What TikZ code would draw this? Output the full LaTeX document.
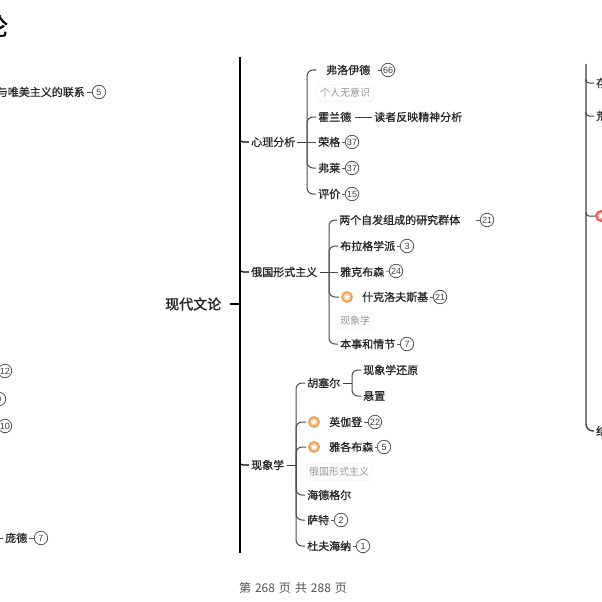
\documentclass[tikz,border=0pt]{standalone}
\usepackage{fontspec}
\usetikzlibrary{shapes.geometric}
\setmainfont{Noto Sans CJK SC}
\newfontfamily\cjkm[FakeBold=0.9]{Noto Sans CJK SC}
\newfontfamily\cjkb[FakeBold=1.6]{Noto Sans CJK SC}
\newfontfamily\numf{Liberation Sans}
\definecolor{stemc}{gray}{0.3}
\definecolor{textc}{gray}{0.15}
\definecolor{iconor}{RGB}{240,160,85}
\definecolor{iconrd}{RGB}{228,90,90}
\tikzset{
  x=1pt,y=-1pt,
  lab/.style={anchor=west,inner sep=0pt,font=\cjkm\fontsize{11}{11}\selectfont,text=textc},
  endlab/.style={anchor=east,inner sep=0pt,font=\cjkm\fontsize{11}{11}\selectfont,text=textc},
  ghost/.style={anchor=west,draw=black!8,rounded corners=3pt,inner xsep=3pt,inner ysep=3.5pt,font=\fontsize{10}{10}\selectfont,text=black!42},
  badge/.style={circle,draw=black!72,line width=0.7pt,minimum size=13.5pt,inner sep=0pt,font=\numf\fontsize{9}{9}\selectfont,text=black!75},
  ico/.style={circle,draw=iconor,fill=iconor!55,line width=1.8pt,minimum size=10pt,inner sep=0pt,
    path picture={\node[star,star points=5,star point ratio=2.2,fill=white,inner sep=0pt,minimum size=6.5pt] at (path picture bounding box.center) {};}},
  icor/.style={ico,draw=iconrd,fill=iconrd!55},
  trunk/.style={draw=black,line width=1.4pt},
  stem/.style={draw=stemc,line width=1pt,rounded corners=6pt},
  link/.style={draw=black!75,line width=1pt},
  tk/.style={draw=black!65,line width=0.7pt,shorten <=#1},
}
\begin{document}
\begin{tikzpicture}
\useasboundingbox (0,0) rectangle (602,602);
\clip (0,0) rectangle (602,602);
\fill[white] (0,0) rectangle (602,602);

% title and left cut-off column
\node[anchor=east,inner sep=0pt,font=\cjkb\fontsize{24}{24}\selectfont,text=black] (title) at (8,26) {论};
\node[endlab] (lt1) at (85,92) {与唯美主义的联系};
\node[badge] (lb1) at (99,92) {5};
\draw[tk=2] (lt1.east) -- (lb1.west);
\node[badge] (lb2) at (5,371) {12};
\node[badge] (lb3) at (-1,399) {9};
\node[badge] (lb4) at (5,426) {10};
\node[lab] (pd) at (5,538) {庞德};
\node[badge] (lb5) at (41,538) {7};
\coordinate (pdl) at (0,538);
\draw[link] (pdl) -- ([xshift=-2pt]pd.west);
\draw[tk=2] (pd.east) -- (lb5.west);

% centre trunk
\node[anchor=west,inner sep=0pt,font=\cjkb\fontsize{14}{14}\selectfont,text=textc] (root) at (165,304) {现代文论};
\coordinate (tt) at (240,57);
\coordinate (tb) at (240,553);
\coordinate (tm) at (240,304);
\draw[trunk] (tt) -- (tb);
\draw[trunk] ([xshift=9pt]root.east) -- (tm);

\node[lab] (a) at (251,142) {心理分析};
\node[lab] (b) at (251,272) {俄国形式主义};
\node[lab] (c) at (251,465) {现象学};
\draw[trunk,line width=1.1pt,rounded corners=3pt] (240,138) |- ([xshift=-2pt]a.west);
\draw[trunk,line width=1.1pt,rounded corners=3pt] (240,268) |- ([xshift=-2pt]b.west);
\draw[trunk,line width=1.1pt,rounded corners=3pt] (240,461) |- ([xshift=-2pt]c.west);

% group A
\coordinate (ha) at (307,142);
\draw[link] ([xshift=2pt]a.east) -- (ha);
\coordinate (a1e) at (316,70);
\node[lab] (a1) at (326,70) {弗洛伊德};
\node[badge] (a1b) at (388,70) {66};
\node[ghost] (a2) at (317,93) {个人无意识};
\node[lab] (a3) at (318,117) {霍兰德};
\node[lab] (a3r) at (374,117) {读者反映精神分析};
\node[lab] (a4) at (318,142) {荣格};
\node[badge] (a4b) at (352,142) {37};
\node[lab] (a5) at (318,168) {弗莱};
\node[badge] (a5b) at (352,168) {37};
\node[lab] (a6) at (318,194) {评价};
\node[badge] (a6b) at (352,194) {15};
\draw[stem] (ha) |- (a1e);
\draw[stem,shorten >=2pt] (ha) |- (a3.west);
\draw[stem,shorten >=2pt] (ha) -- (a4.west);
\draw[stem,shorten >=2pt] (ha) |- (a5.west);
\draw[stem,shorten >=2pt] (ha) |- (a6.west);
\draw[link,shorten <=4pt,shorten >=2pt] (a3.east) -- (a3r.west);
\draw[tk=8] (a1.east) -- (a1b.west);
\draw[tk=2] (a4.east) -- (a4b.west);
\draw[tk=2] (a5.east) -- (a5b.west);
\draw[tk=2] (a6.east) -- (a6b.west);

% group B
\coordinate (hb) at (329,272);
\draw[link] ([xshift=3pt]b.east) -- (hb);
\node[lab] (b1) at (339,220) {两个自发组成的研究群体};
\node[badge] (b1b) at (487,220) {21};
\node[lab] (b2) at (340,246) {布拉格学派};
\node[badge] (b2b) at (407,246) {3};
\node[lab] (b3) at (340,272) {雅克布森};
\node[badge] (b3b) at (396,271) {24};
\node[ico] (b4i) at (347,297) {};
\node[lab] (b4) at (362,297) {什克洛夫斯基};
\node[badge] (b4b) at (440,297) {21};
\node[ghost] (b5) at (337,321) {现象学};
\node[lab] (b6) at (340,344) {本事和情节};
\node[badge] (b6b) at (407,344) {7};
\draw[stem,shorten >=2pt] (hb) |- (b1.west);
\draw[stem,shorten >=2pt] (hb) |- (b2.west);
\draw[stem,shorten >=2pt] (hb) -- (b3.west);
\draw[stem,shorten >=2pt] (hb) |- (b4i.west);
\draw[stem,shorten >=2pt] (hb) |- (b6.west);
\draw[tk=16] (b1.east) -- (b1b.west);
\draw[tk=2] (b2.east) -- (b2b.west);
\draw[tk=2] (b3.east) -- (b3b.west);
\draw[tk=2] (b4.east) -- (b4b.west);
\draw[tk=2] (b6.east) -- (b6b.west);

% group C
\coordinate (hc) at (296,465);
\draw[link] ([xshift=3pt]c.east) -- (hc);
\node[lab] (c1) at (307,383) {胡塞尔};
\coordinate (hc1) at (352,383);
\node[lab] (c1a) at (363,370) {现象学还原};
\node[lab] (c1b) at (363,396) {悬置};
\node[ico] (c2i) at (314,422) {};
\node[lab] (c2) at (329,422) {英伽登};
\node[badge] (c2b) at (375,422) {22};
\node[ico] (c3i) at (314,447) {};
\node[lab] (c3) at (329,447) {雅各布森};
\node[badge] (c3b) at (384,447) {5};
\node[ghost] (c4) at (306,472) {俄国形式主义};
\node[lab] (c5) at (307,495) {海德格尔};
\node[lab] (c6) at (307,520) {萨特};
\node[badge] (c6b) at (341,520) {2};
\node[lab] (c7) at (307,546) {杜夫海纳};
\node[badge] (c7b) at (363,546) {1};
\draw[stem,shorten >=2pt] (hc) |- (c1.west);
\draw[stem,shorten >=2pt] (hc) |- (c2i.west);
\draw[stem,shorten >=2pt] (hc) |- (c3i.west);
\draw[stem,shorten >=2pt] (hc) |- (c5.west);
\draw[stem,shorten >=2pt] (hc) |- (c6.west);
\draw[stem,shorten >=2pt] (hc) |- (c7.west);
\draw[link,shorten <=3pt] (c1.east) -- (hc1);
\draw[stem,shorten >=2pt] (hc1) |- (c1a.west);
\draw[stem,shorten >=2pt] (hc1) |- (c1b.west);
\draw[tk=2] (c2.east) -- (c2b.west);
\draw[tk=2] (c3.east) -- (c3b.west);
\draw[tk=2] (c6.east) -- (c6b.west);
\draw[tk=2] (c7.east) -- (c7b.west);

% right cut-off column
\coordinate (rt) at (586,64);
\node[lab] (r1) at (596,83) {存};
\node[lab] (r2) at (596,116) {荒};
\node[icor] (r3) at (601,216) {};
\node[lab] (r4) at (596,431) {结};
\draw[trunk,draw=black!75,rounded corners=7pt] (rt) |- ([xshift=-2pt]r4.west);
\draw[trunk,draw=black!75,line width=1pt,rounded corners=3pt] (586,79) |- ([xshift=-2pt]r1.west);
\draw[trunk,draw=black!75,line width=1pt,rounded corners=3pt] (586,112) |- ([xshift=-2pt]r2.west);
\draw[trunk,draw=black!75,line width=1pt,rounded corners=3pt] (586,212) |- (r3.west);

% footer
\node[inner sep=0pt,font=\fontsize{12}{12}\selectfont,text=black!68] (foot) at (293,588) {第\hspace{4pt}268\hspace{4pt}页\hspace{4pt}共\hspace{4pt}288\hspace{4pt}页};
\end{tikzpicture}
\end{document}
